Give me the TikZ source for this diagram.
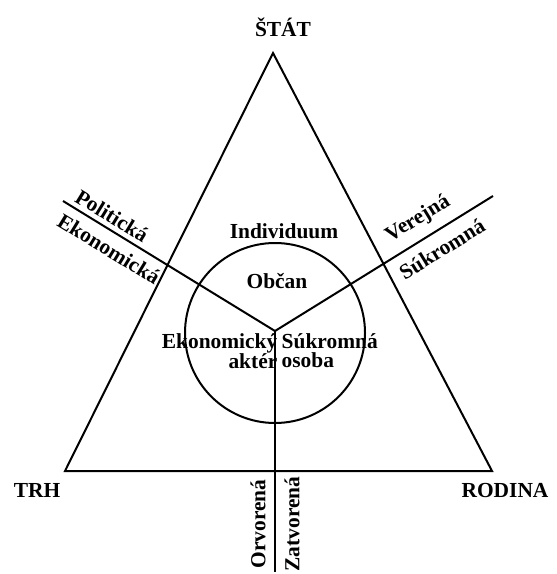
\documentclass[tikz,border=0pt]{standalone}
\usepackage{fontspec}
\setmainfont{Liberation Serif}
\begin{document}
\begin{tikzpicture}[x=1bp,y=-1bp,
  lbl/.style={font=\bfseries\fontsize{21.5}{19}\selectfont, inner sep=0pt},
  ln/.style={line width=2bp, line join=miter}]
\useasboundingbox (0,0) rectangle (557,574);
% triangle corners
\coordinate (A) at (273,53);
\coordinate (B) at (65,471);
\coordinate (C) at (492,471);
\coordinate (O) at (275,331);
\coordinate (L) at (63,201);
\coordinate (R) at (493,196);
\coordinate (D) at (275,572);
\draw[ln] (A) -- (B) -- (C) -- cycle;
\draw[ln] (275,333) circle[radius=90];
\draw[ln] (L) -- (O) -- (R);
\draw[ln] (O) -- (D);
% corner labels
\node[lbl, anchor=base] (stat) at (283,37) {ŠTÁT};
\node[lbl, anchor=base] (trh) at (37,497) {TRH};
\node[lbl, anchor=base] (rodina) at (505,497) {RODINA};
% inner labels
\node[lbl, anchor=base] (ind) at (284,238) {Individuum};
\node[lbl, anchor=base] (obc) at (277,288) {Občan};
\node[lbl, anchor=east, align=right] (eko) at (277.5,351) {Ekonomický\\aktér};
\node[lbl, anchor=west, align=left] (suk) at (281.5,351) {Súkromná\\osoba};
% line labels
\node[lbl, rotate=-31.5] (pol) at (112,216) {Politická};
\node[lbl, rotate=-31.5] (ekn) at (109,249) {Ekonomická};
\node[lbl, rotate=31.5] (ver) at (418,219) {Verejná};
\node[lbl, rotate=31.5] (sukr) at (442,249) {Súkromná};
\node[lbl, rotate=90] (orv) at (258,524) {Orvorená};
\node[lbl, rotate=90] (zat) at (292,524) {Zatvorená};
\end{tikzpicture}
\end{document}
